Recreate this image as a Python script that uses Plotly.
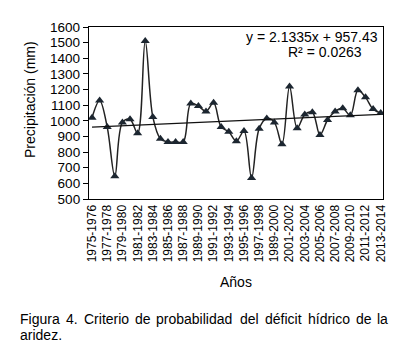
import plotly.graph_objects as go

# Data
precip = [1020, 1130, 960, 645, 990, 1010, 920, 1510, 1025, 885,
          865, 865, 865, 1110, 1095, 1060, 1115, 960, 930, 870,
          935, 635, 950, 1015, 990, 850, 1220, 953, 1040, 1055,
          910, 1005, 1060, 1080, 1035, 1195, 1150, 1075, 1050]
tick_labels = ["1975-1976", "1977-1978", "1979-1980", "1981-1982", "1983-1984",
               "1985-1986", "1987-1988", "1989-1990", "1991-1992", "1993-1994",
               "1995-1996", "1997-1998", "1989-2000", "2001-2002", "2003-2004",
               "2005-2006", "2007-2008", "2009-2010", "2011-2012", "2013-2014"]
slope = 2.1335
intercept = 957.43
r2 = 0.0263

x_idx = list(range(len(precip)))
tick_idx = x_idx[::2]
trend = [slope * (i + 1) + intercept for i in x_idx]

FONT = "Liberation Sans, Arial, sans-serif"

fig = go.Figure()
fig.add_trace(go.Scatter(
    x=x_idx, y=precip, mode="lines+markers",
    line=dict(color="#222222", width=1.5, shape="spline", smoothing=1.0),
    marker=dict(symbol="triangle-up", size=8, color="#1c2630"),
    showlegend=False, hoverinfo="skip"))
fig.add_trace(go.Scatter(
    x=x_idx, y=trend, mode="lines",
    line=dict(color="#111111", width=1.2),
    showlegend=False, hoverinfo="skip"))

fig.update_xaxes(
    range=[-0.4, 38.3], tickmode="array", tickvals=tick_idx, ticktext=tick_labels,
    tickangle=-90, ticks="", showgrid=False, zeroline=False,
    showline=True, mirror=True, linecolor="black", linewidth=1.3,
    tickfont=dict(family=FONT, size=12, color="black"))
fig.update_yaxes(
    range=[500, 1600], dtick=100, ticks="outside", ticklen=5, tickcolor="black",
    showgrid=False, zeroline=False,
    showline=True, mirror=True, linecolor="black", linewidth=1.3,
    tickfont=dict(family=FONT, size=13.5, color="black"))

# page body adds an 8px offset; compensate
OFF = 8
W, H = 410 - OFF, 352 - OFF
L, T = 89 - OFF, 27 - OFF
R = W - (383 - OFF)
B = H - (199 - OFF)
pw, ph = W - L - R, H - T - B


def px(xp):
    return (xp - OFF - L) / pw


def py(yp):
    return (H - B - (yp - OFF)) / ph


ann = []
ann.append(dict(text="Precipitación (mm)", x=px(30), y=py(100), textangle=-90,
                font=dict(family=FONT, size=14, color="black")))
ann.append(dict(text="Años", x=px(236), y=py(282),
                font=dict(family=FONT, size=14, color="black")))
ann.append(dict(text=f"y = {slope}x + {intercept}", x=px(380), y=py(36.5), xanchor="right",
                font=dict(family=FONT, size=14, color="black")))
ann.append(dict(text=f"R² = {r2}", x=px(325), y=py(51.5),
                font=dict(family=FONT, size=14, color="black")))

caption_words = ["Figura", "4.", "Criterio", "de", "probabilidad", "del",
                 "déficit", "hídrico", "de", "la"]
word_x = [18, 63.8, 81.5, 132.7, 154.4, 238.2, 263, 305.6, 353.7, 375.4]
for w, xx in zip(caption_words, word_x):
    ann.append(dict(text=w, x=px(xx), y=py(319), xanchor="left",
                    font=dict(family=FONT, size=14, color="black")))
ann.append(dict(text="aridez.", x=px(18), y=py(335), xanchor="left",
                font=dict(family=FONT, size=14, color="black")))

for a in ann:
    a.update(xref="paper", yref="paper", showarrow=False)
    a.setdefault("xanchor", "center")
    a.setdefault("yanchor", "middle")

fig.update_layout(
    width=W, height=H, margin=dict(l=L, r=R, t=T, b=B),
    paper_bgcolor="white", plot_bgcolor="white",
    annotations=ann, font=dict(family=FONT))

fig.write_html("out.html")
